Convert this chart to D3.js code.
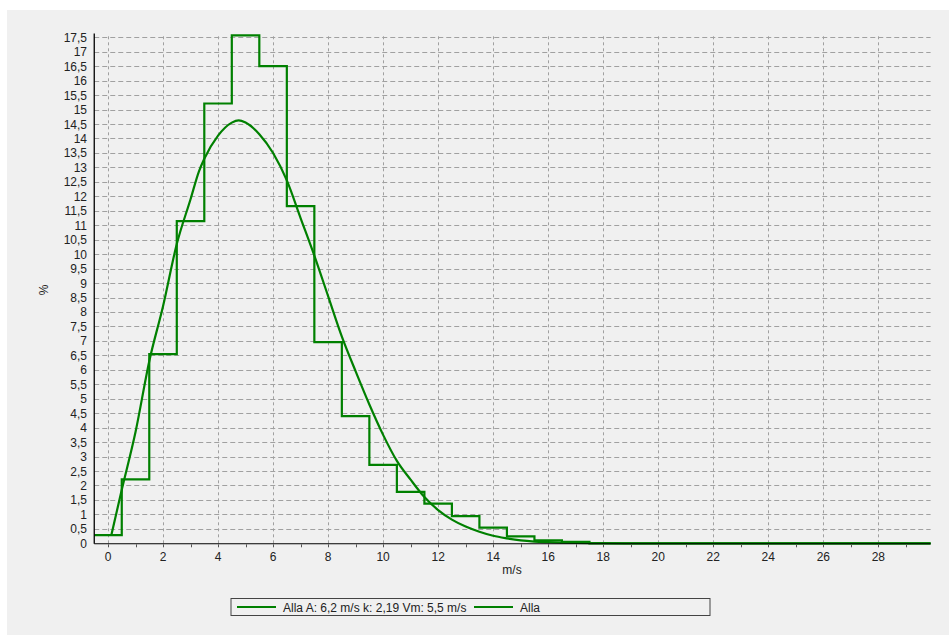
<!DOCTYPE html>
<html>
<head>
<meta charset="utf-8">
<script src="https://cdn.jsdelivr.net/npm/d3@7"></script>
<style>
  html, body { margin: 0; padding: 0; background: #ffffff; }
  svg { display: block; }
  text { font-family: "Liberation Sans", Arial, sans-serif; }
</style>
</head>
<body>
<svg id="chart" width="949" height="635"></svg>
<script>
// Histogram bins (centre wind speed, m/s) and frequency (%)
const binCenters = [0, 1, 2, 3, 4, 5, 6, 7, 8, 9, 10, 11, 12, 13, 14, 15, 16, 17];
const binValues  = [0.28, 2.21, 6.54, 11.14, 15.21, 17.57, 16.5, 11.66, 6.96, 4.4, 2.71, 1.78, 1.37, 0.94, 0.54, 0.24, 0.1, 0.05];

// Fitted distribution curve
const curveX = [0.12, 0.5, 1, 1.5, 2, 2.5, 3, 3.3, 3.5, 4, 4.5, 4.75, 5, 5.5, 6, 6.5, 7, 7.5, 8, 8.5, 9, 9.5, 10, 10.5, 11, 11.5, 12, 12.5, 13, 13.5, 14, 14.5, 15, 15.5, 16, 17, 18, 19, 29.9];
const curveY = [0.28, 1.85, 3.85, 6.3, 8.2, 10.35, 11.9, 12.85, 13.3, 14.1, 14.55, 14.63, 14.55, 14.15, 13.5, 12.55, 11.25, 9.95, 8.55, 7.15, 5.95, 4.8, 3.75, 2.85, 2.2, 1.6, 1.15, 0.82, 0.58, 0.4, 0.26, 0.17, 0.1, 0.06, 0.04, 0.015, 0.005, 0, 0];

const yTicks = d3.range(0, 17.5001, 0.5);
const xMajorTicks = [0, 2, 4, 6, 8, 10, 12, 14, 16, 18, 20, 22, 24, 26, 28];
const xMinorTicks = d3.range(1, 30, 2);

const legendItems = ["Alla A: 6,2 m/s k: 2,19 Vm: 5,5 m/s", "Alla"];

const green = "#008000";
const gridColor = "#a0a0a0";
const textColor = "#222";
const fontSize = 12;

const svg = d3.select("#chart");

// panel background
svg.append("rect").attr("x", 7).attr("y", 10).attr("width", 942).attr("height", 625).attr("fill", "#f0f0f0");

const xMin = -0.5, xMax = 29.9;
const x = d3.scaleLinear().domain([xMin, xMax]).range([94.25, 930.6]);
const y = d3.scaleLinear().domain([0, 17.5]).range([543.3, 37.3]);
const yTop = 17.6;

const fmt = v => d3.format("")(v).replace(".", ",");

// horizontal grid
svg.append("g").selectAll("line").data(yTicks.filter(v => v > 0)).join("line")
  .attr("x1", x(xMin)).attr("x2", x(xMax))
  .attr("y1", d => Math.round(y(d)) + 0.5).attr("y2", d => Math.round(y(d)) + 0.5)
  .attr("stroke", gridColor).attr("stroke-width", 1).attr("stroke-dasharray", "5,3");

// vertical grid
svg.append("g").selectAll("line").data(xMajorTicks).join("line")
  .attr("x1", d => Math.round(x(d)) + 0.5).attr("x2", d => Math.round(x(d)) + 0.5)
  .attr("y1", y(0)).attr("y2", y(yTop))
  .attr("stroke", gridColor).attr("stroke-width", 1).attr("stroke-dasharray", "3,3");

// histogram step line
const stepPts = binCenters.map((c, i) => [c - 0.5, binValues[i]]);
stepPts.push([binCenters[binCenters.length - 1] + 0.5, 0]);
stepPts.push([xMax, 0]);
const stepLine = d3.line().x(d => x(d[0])).y(d => y(d[1])).curve(d3.curveStepAfter);
svg.append("path").datum(stepPts).attr("d", stepLine)
  .attr("fill", "none").attr("stroke", green).attr("stroke-width", 2.2);

// curve
const curvePts = curveX.map((v, i) => [v, curveY[i]]);
const curveLine = d3.line().x(d => x(d[0])).y(d => y(d[1])).curve(d3.curveMonotoneX);
svg.append("path").datum(curvePts).attr("d", curveLine)
  .attr("fill", "none").attr("stroke", green).attr("stroke-width", 2.2);

// axes lines
const axisG = svg.append("g");
axisG.append("line").attr("x1", x(xMin)).attr("x2", x(xMin)).attr("y1", y(yTop) - 1).attr("y2", y(0) + 0.5)
  .attr("stroke", "#000").attr("stroke-width", 1.3);
axisG.append("line").attr("x1", x(xMin)).attr("x2", x(xMax)).attr("y1", y(0) + 0.5).attr("y2", y(0) + 0.5)
  .attr("stroke", "#000").attr("stroke-width", 1.1);

// x ticks
axisG.selectAll(".xt").data(xMajorTicks.concat(xMinorTicks)).join("line")
  .attr("x1", d => Math.round(x(d)) + 0.5).attr("x2", d => Math.round(x(d)) + 0.5)
  .attr("y1", y(0) + 1).attr("y2", y(0) + 4)
  .attr("stroke", "#555").attr("stroke-width", 1);

// x labels
axisG.selectAll(".xl").data(xMajorTicks).join("text")
  .attr("x", d => x(d)).attr("y", y(0) + 18)
  .attr("text-anchor", "middle").attr("font-size", fontSize).attr("fill", textColor)
  .text(d => fmt(d));

// y labels
axisG.selectAll(".yl").data(yTicks).join("text")
  .attr("x", 87).attr("y", d => y(d) + 4.5)
  .attr("text-anchor", "end").attr("font-size", fontSize).attr("fill", textColor)
  .text(d => fmt(d));

// axis titles
svg.append("text").attr("x", 512).attr("y", 574).attr("text-anchor", "middle")
  .attr("font-size", fontSize).attr("fill", textColor).text("m/s");
svg.append("text").attr("transform", "translate(48,290) rotate(-90)").attr("text-anchor", "middle")
  .attr("font-size", fontSize).attr("fill", textColor).text("%");

// legend
const lg = svg.append("g");
lg.append("rect").attr("x", 231).attr("y", 598.5).attr("width", 479).attr("height", 17)
  .attr("fill", "#f0f0f0").attr("stroke", "#444").attr("stroke-width", 1);
const legendPos = [{lx1: 237, lx2: 276, tx: 283}, {lx1: 474, lx2: 513, tx: 520}];
legendItems.forEach((t, i) => {
  const p = legendPos[i];
  lg.append("line").attr("x1", p.lx1).attr("x2", p.lx2).attr("y1", 607).attr("y2", 607)
    .attr("stroke", green).attr("stroke-width", 2);
  lg.append("text").attr("x", p.tx).attr("y", 611.5).attr("font-size", fontSize).attr("fill", textColor).text(t);
});
</script>
</body>
</html>
